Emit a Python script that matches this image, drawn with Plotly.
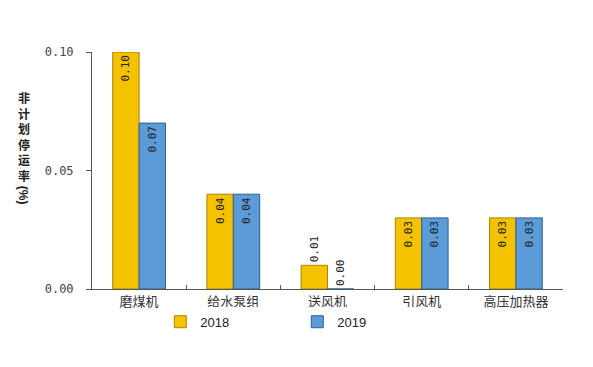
import plotly.graph_objects as go

categories = ["磨煤机", "给水泵组", "送风机", "引风机", "高压加热器"]
values_2018 = [0.10, 0.04, 0.01, 0.03, 0.03]
values_2019 = [0.07, 0.04, 0.00, 0.03, 0.03]
series_names = ["2018", "2019"]
y_tickvals = [0.0, 0.05, 0.10]
y_ticktext = ["0.00", "0.05", "0.10"]
y_title_chars = "非计划停运率"
y_title_unit = "(%)"

label_font = dict(family="DejaVu Sans Mono", size=11, color="#222222")


def positions(vals):
    return ["inside" if v >= 0.02 else "outside" for v in vals]


fig = go.Figure()
fig.add_trace(go.Bar(
    x=categories, y=values_2018, name=series_names[0],
    marker=dict(color="#F5C200", line=dict(color="#A88400", width=1)),
    text=[f"{v:.2f}" for v in values_2018], textposition=positions(values_2018),
    textangle=-90, insidetextanchor="end", textfont=label_font,
    outsidetextfont=label_font, insidetextfont=label_font, cliponaxis=False,
))
fig.add_trace(go.Bar(
    x=categories, y=values_2019, name=series_names[1],
    marker=dict(color="#5B9BD8", line=dict(color="#2F5F8F", width=1)),
    text=[f"{v:.2f}" for v in values_2019], textposition=positions(values_2019),
    textangle=-90, insidetextanchor="end", textfont=label_font,
    outsidetextfont=label_font, insidetextfont=label_font, cliponaxis=False,
))

fig.update_layout(
    width=593, height=367,
    margin=dict(l=84, r=38, t=44, b=86),
    paper_bgcolor="white", plot_bgcolor="white",
    barmode="group", bargap=0.44, bargroupgap=0,
    uniformtext=dict(minsize=11, mode="show"),
    font=dict(family="Noto Sans CJK SC", color="#333333"),
    showlegend=True,
    legend=dict(orientation="h", x=0.145, xanchor="left", y=-0.075, yanchor="top",
                entrywidth=92, entrywidthmode="pixels",
                font=dict(family="Liberation Sans", size=13, color="#222222"),
                itemwidth=30, tracegroupgap=0),
    xaxis=dict(showline=True, linecolor="#555555", linewidth=1,
               ticks="inside", tickson="boundaries", ticklen=4, tickcolor="#555555",
               tickfont=dict(family="Noto Sans CJK SC", size=13, color="#333333"),
               showgrid=False),
    yaxis=dict(range=[0, 0.10], tickvals=y_tickvals, ticktext=y_ticktext,
               showline=True, linecolor="#555555", linewidth=1,
               ticks="outside", ticklen=5, tickcolor="#555555",
               ticklabelstandoff=10,
               tickfont=dict(family="DejaVu Sans Mono", size=12, color="#444444"),
               showgrid=False, zeroline=False),
)

# vertical stacked title: upright characters, then the rotated unit
fig.add_annotation(
    text="<br>".join(y_title_chars), xref="paper", yref="paper",
    x=-0.145, y=1 - 36 / 237, xanchor="center", yanchor="top",
    showarrow=False, borderpad=0,
    font=dict(family="Noto Sans CJK SC", size=12, color="#222222", weight="bold"),
)
fig.add_annotation(
    text=y_title_unit, xref="paper", yref="paper", textangle=90,
    x=-0.145, y=1 - 133 / 237,
    xanchor="center", yanchor="top", showarrow=False, borderpad=0,
    font=dict(family="Liberation Sans", size=12, color="#222222", weight="bold"),
)

fig.write_html("out.html")
